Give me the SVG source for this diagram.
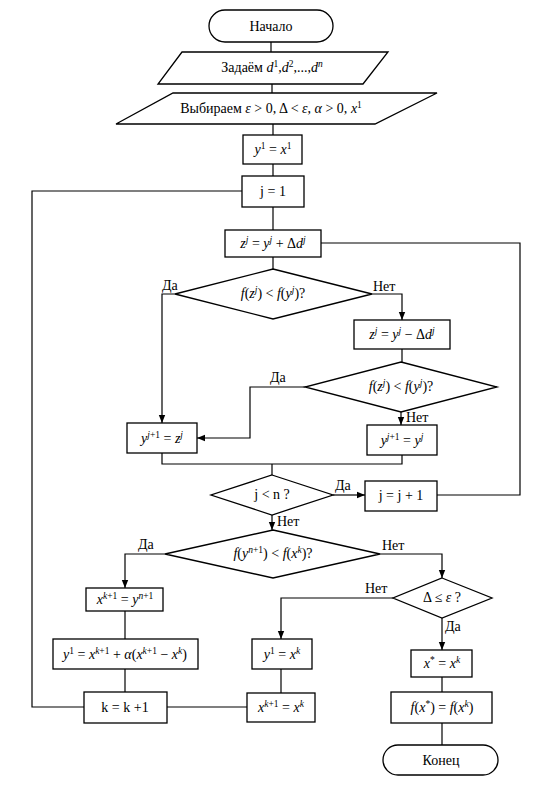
<svg xmlns="http://www.w3.org/2000/svg" width="552" height="790" viewBox="0 0 552 790" font-family="'Liberation Serif', serif">
<defs>
<style>
.n{fill:#fff;stroke:#000;stroke-width:1.3}
.c{fill:none;stroke:#000;stroke-width:1.2}
text{font-family:'Liberation Serif',serif;font-size:14px;fill:#000;text-anchor:middle}
.l{text-anchor:start}
.i{font-style:italic}
.s{font-size:9.5px}
</style>
<marker id="a" markerUnits="userSpaceOnUse" markerWidth="8" markerHeight="8" viewBox="0 0 8 8" refX="8" refY="4" orient="auto">
<path d="M0,0.8 L8,4 L0,7.2 Z" fill="#000"/>
</marker>
</defs>
<rect width="552" height="790" fill="#fff"/>

<g id="connectors">
<path class="c" d="M271,42 V52"/>
<path class="c" d="M272,84 V93"/>
<path class="c" d="M273,124 V135"/>
<path class="c" d="M273,164 V176"/>
<path class="c" d="M273,207 V230"/>
<path class="c" d="M273,257 V269"/>
<path class="c" d="M175,294 H162 V423" marker-end="url(#a)"/>
<path class="c" d="M372,294 H402 V320" marker-end="url(#a)"/>
<path class="c" d="M402,349 V362"/>
<path class="c" d="M305,387 H250 V438 H197" marker-end="url(#a)"/>
<path class="c" d="M401,412 V425" marker-end="url(#a)"/>
<path class="c" d="M162,453 V464 H402 V455"/>
<path class="c" d="M272,464 V475"/>
<path class="c" d="M333,495 H365" marker-end="url(#a)"/>
<path class="c" d="M437,495 H520 V243 H321"/>
<path class="c" d="M272,515 V530" marker-end="url(#a)"/>
<path class="c" d="M165,554 H125 V588" marker-end="url(#a)"/>
<path class="c" d="M380,554 H442 V578" marker-end="url(#a)"/>
<path class="c" d="M125,611 V639"/>
<path class="c" d="M125,669 V692"/>
<path class="c" d="M84,707 H32 V191 H242"/>
<path class="c" d="M167,707 H247"/>
<path class="c" d="M393,598 H281 V639" marker-end="url(#a)"/>
<path class="c" d="M281,669 V693"/>
<path class="c" d="M442,618 V650" marker-end="url(#a)"/>
<path class="c" d="M442,677 V692"/>
<path class="c" d="M442,723 V745"/>
<text class="l" x="162" y="290">Да</text>
<text class="l" x="373" y="291">Нет</text>
<text class="l" x="270" y="382">Да</text>
<text class="l" x="406" y="422">Нет</text>
<text class="l" x="335" y="490">Да</text>
<text class="l" x="277" y="526">Нет</text>
<text class="l" x="138" y="549">Да</text>
<text class="l" x="382" y="550">Нет</text>
<text class="l" x="365" y="593">Нет</text>
<text class="l" x="445" y="631">Да</text>
</g>

<g id="start">
<rect class="n" x="209" y="10" width="124" height="32" rx="16"/>
<text x="271" y="31">Начало</text>
</g>
<g id="input-d">
<polygon class="n" points="182,52 388,52 363,84 158,84"/>
<text x="272" y="72">Задаём <tspan class="i">d</tspan><tspan class="s" dy="-5">1</tspan><tspan dy="5">,</tspan><tspan class="i">d</tspan><tspan class="s" dy="-5">2</tspan><tspan dy="5">,...,</tspan><tspan class="i">d</tspan><tspan class="i s" dy="-5">n</tspan></text>
</g>
<g id="input-params">
<polygon class="n" points="173,93 437,93 375,124 116,124"/>
<text x="271" y="113">Выбираем <tspan class="i">ε</tspan> &gt; 0, Δ &lt; <tspan class="i">ε</tspan>, <tspan class="i">α</tspan> &gt; 0, <tspan class="i">x</tspan><tspan class="s" dy="-5">1</tspan></text>
</g>
<g id="init-y">
<rect class="n" x="243" y="135" width="59" height="29"/>
<text x="273" y="154"><tspan class="i">y</tspan><tspan class="s" dy="-5">1</tspan><tspan dy="5"> = </tspan><tspan class="i">x</tspan><tspan class="s" dy="-5">1</tspan></text>
</g>
<g id="init-j">
<rect class="n" x="242" y="176" width="62" height="31"/>
<text x="273" y="196">j = 1</text>
</g>
<g id="step-plus">
<rect class="n" x="225" y="230" width="96" height="27"/>
<text x="273" y="248"><tspan class="i">z</tspan><tspan class="i s" dy="-5">j</tspan><tspan dy="5"> = </tspan><tspan class="i">y</tspan><tspan class="i s" dy="-5">j</tspan><tspan dy="5"> + Δ</tspan><tspan class="i">d</tspan><tspan class="i s" dy="-5">j</tspan></text>
</g>
<g id="cond1">
<polygon class="n" points="273,269 372,294 273,319 175,294"/>
<text x="273" y="298"><tspan class="i">f</tspan>(<tspan class="i">z</tspan><tspan class="i s" dy="-5">j</tspan><tspan dy="5">) &lt; </tspan><tspan class="i">f</tspan>(<tspan class="i">y</tspan><tspan class="i s" dy="-5">j</tspan><tspan dy="5">)?</tspan></text>
</g>
<g id="step-minus">
<rect class="n" x="354" y="320" width="96" height="29"/>
<text x="402" y="339"><tspan class="i">z</tspan><tspan class="i s" dy="-5">j</tspan><tspan dy="5"> = </tspan><tspan class="i">y</tspan><tspan class="i s" dy="-5">j</tspan><tspan dy="5"> − Δ</tspan><tspan class="i">d</tspan><tspan class="i s" dy="-5">j</tspan></text>
</g>
<g id="cond2">
<polygon class="n" points="401,362 497,387 401,412 305,387"/>
<text x="401" y="391"><tspan class="i">f</tspan>(<tspan class="i">z</tspan><tspan class="i s" dy="-5">j</tspan><tspan dy="5">) &lt; </tspan><tspan class="i">f</tspan>(<tspan class="i">y</tspan><tspan class="i s" dy="-5">j</tspan><tspan dy="5">)?</tspan></text>
</g>
<g id="accept-z">
<rect class="n" x="127" y="423" width="70" height="30"/>
<text x="162" y="443"><tspan class="i">y</tspan><tspan class="i s" dy="-5">j</tspan><tspan class="s">+1</tspan><tspan dy="5"> = </tspan><tspan class="i">z</tspan><tspan class="i s" dy="-5">j</tspan></text>
</g>
<g id="keep-y">
<rect class="n" x="367" y="425" width="70" height="30"/>
<text x="402" y="445"><tspan class="i">y</tspan><tspan class="i s" dy="-5">j</tspan><tspan class="s">+1</tspan><tspan dy="5"> = </tspan><tspan class="i">y</tspan><tspan class="i s" dy="-5">j</tspan></text>
</g>
<g id="cond-j">
<polygon class="n" points="272,475 333,495 272,515 211,495"/>
<text x="272" y="499">j &lt; n ?</text>
</g>
<g id="inc-j">
<rect class="n" x="365" y="481" width="72" height="30"/>
<text x="401" y="500">j = j + 1</text>
</g>
<g id="cond3">
<polygon class="n" points="273,530 380,554 273,578 165,554"/>
<text x="273" y="558"><tspan class="i">f</tspan>(<tspan class="i">y</tspan><tspan class="i s" dy="-5">n</tspan><tspan class="s">+1</tspan><tspan dy="5">) &lt; </tspan><tspan class="i">f</tspan>(<tspan class="i">x</tspan><tspan class="i s" dy="-5">k</tspan><tspan dy="5">)?</tspan></text>
</g>
<g id="new-x">
<rect class="n" x="86" y="588" width="77" height="23"/>
<text x="125" y="604"><tspan class="i">x</tspan><tspan class="i s" dy="-5">k</tspan><tspan class="s">+1</tspan><tspan dy="5"> = </tspan><tspan class="i">y</tspan><tspan class="i s" dy="-5">n</tspan><tspan class="s">+1</tspan></text>
</g>
<g id="cond-delta">
<polygon class="n" points="442,578 492,598 442,618 393,598"/>
<text x="442" y="602">Δ ≤ <tspan class="i">ε</tspan> ?</text>
</g>
<g id="accel">
<rect class="n" x="53" y="639" width="145" height="30"/>
<text x="125" y="659"><tspan class="i">y</tspan><tspan class="s" dy="-5">1</tspan><tspan dy="5"> = </tspan><tspan class="i">x</tspan><tspan class="i s" dy="-5">k</tspan><tspan class="s">+1</tspan><tspan dy="5"> + </tspan><tspan class="i">α</tspan>(<tspan class="i">x</tspan><tspan class="i s" dy="-5">k</tspan><tspan class="s">+1</tspan><tspan dy="5"> − </tspan><tspan class="i">x</tspan><tspan class="i s" dy="-5">k</tspan><tspan dy="5">)</tspan></text>
</g>
<g id="reset-y">
<rect class="n" x="252" y="639" width="60" height="30"/>
<text x="282" y="659"><tspan class="i">y</tspan><tspan class="s" dy="-5">1</tspan><tspan dy="5"> = </tspan><tspan class="i">x</tspan><tspan class="i s" dy="-5">k</tspan></text>
</g>
<g id="result-x">
<rect class="n" x="411" y="650" width="61" height="27"/>
<text x="442" y="668"><tspan class="i">x</tspan><tspan class="s" dy="-5">*</tspan><tspan dy="5"> = </tspan><tspan class="i">x</tspan><tspan class="i s" dy="-5">k</tspan></text>
</g>
<g id="inc-k">
<rect class="n" x="84" y="692" width="83" height="31"/>
<text x="125" y="712">k = k +1</text>
</g>
<g id="keep-x">
<rect class="n" x="247" y="693" width="68" height="29"/>
<text x="281" y="712"><tspan class="i">x</tspan><tspan class="i s" dy="-5">k</tspan><tspan class="s">+1</tspan><tspan dy="5"> = </tspan><tspan class="i">x</tspan><tspan class="i s" dy="-5">k</tspan></text>
</g>
<g id="result-f">
<rect class="n" x="391" y="692" width="101" height="31"/>
<text x="442" y="712"><tspan class="i">f</tspan>(<tspan class="i">x</tspan><tspan class="s" dy="-5">*</tspan><tspan dy="5">) = </tspan><tspan class="i">f</tspan>(<tspan class="i">x</tspan><tspan class="i s" dy="-5">k</tspan><tspan dy="5">)</tspan></text>
</g>
<g id="end">
<rect class="n" x="383" y="745" width="115" height="30" rx="15"/>
<text x="441" y="765">Конец</text>
</g>
</svg>
